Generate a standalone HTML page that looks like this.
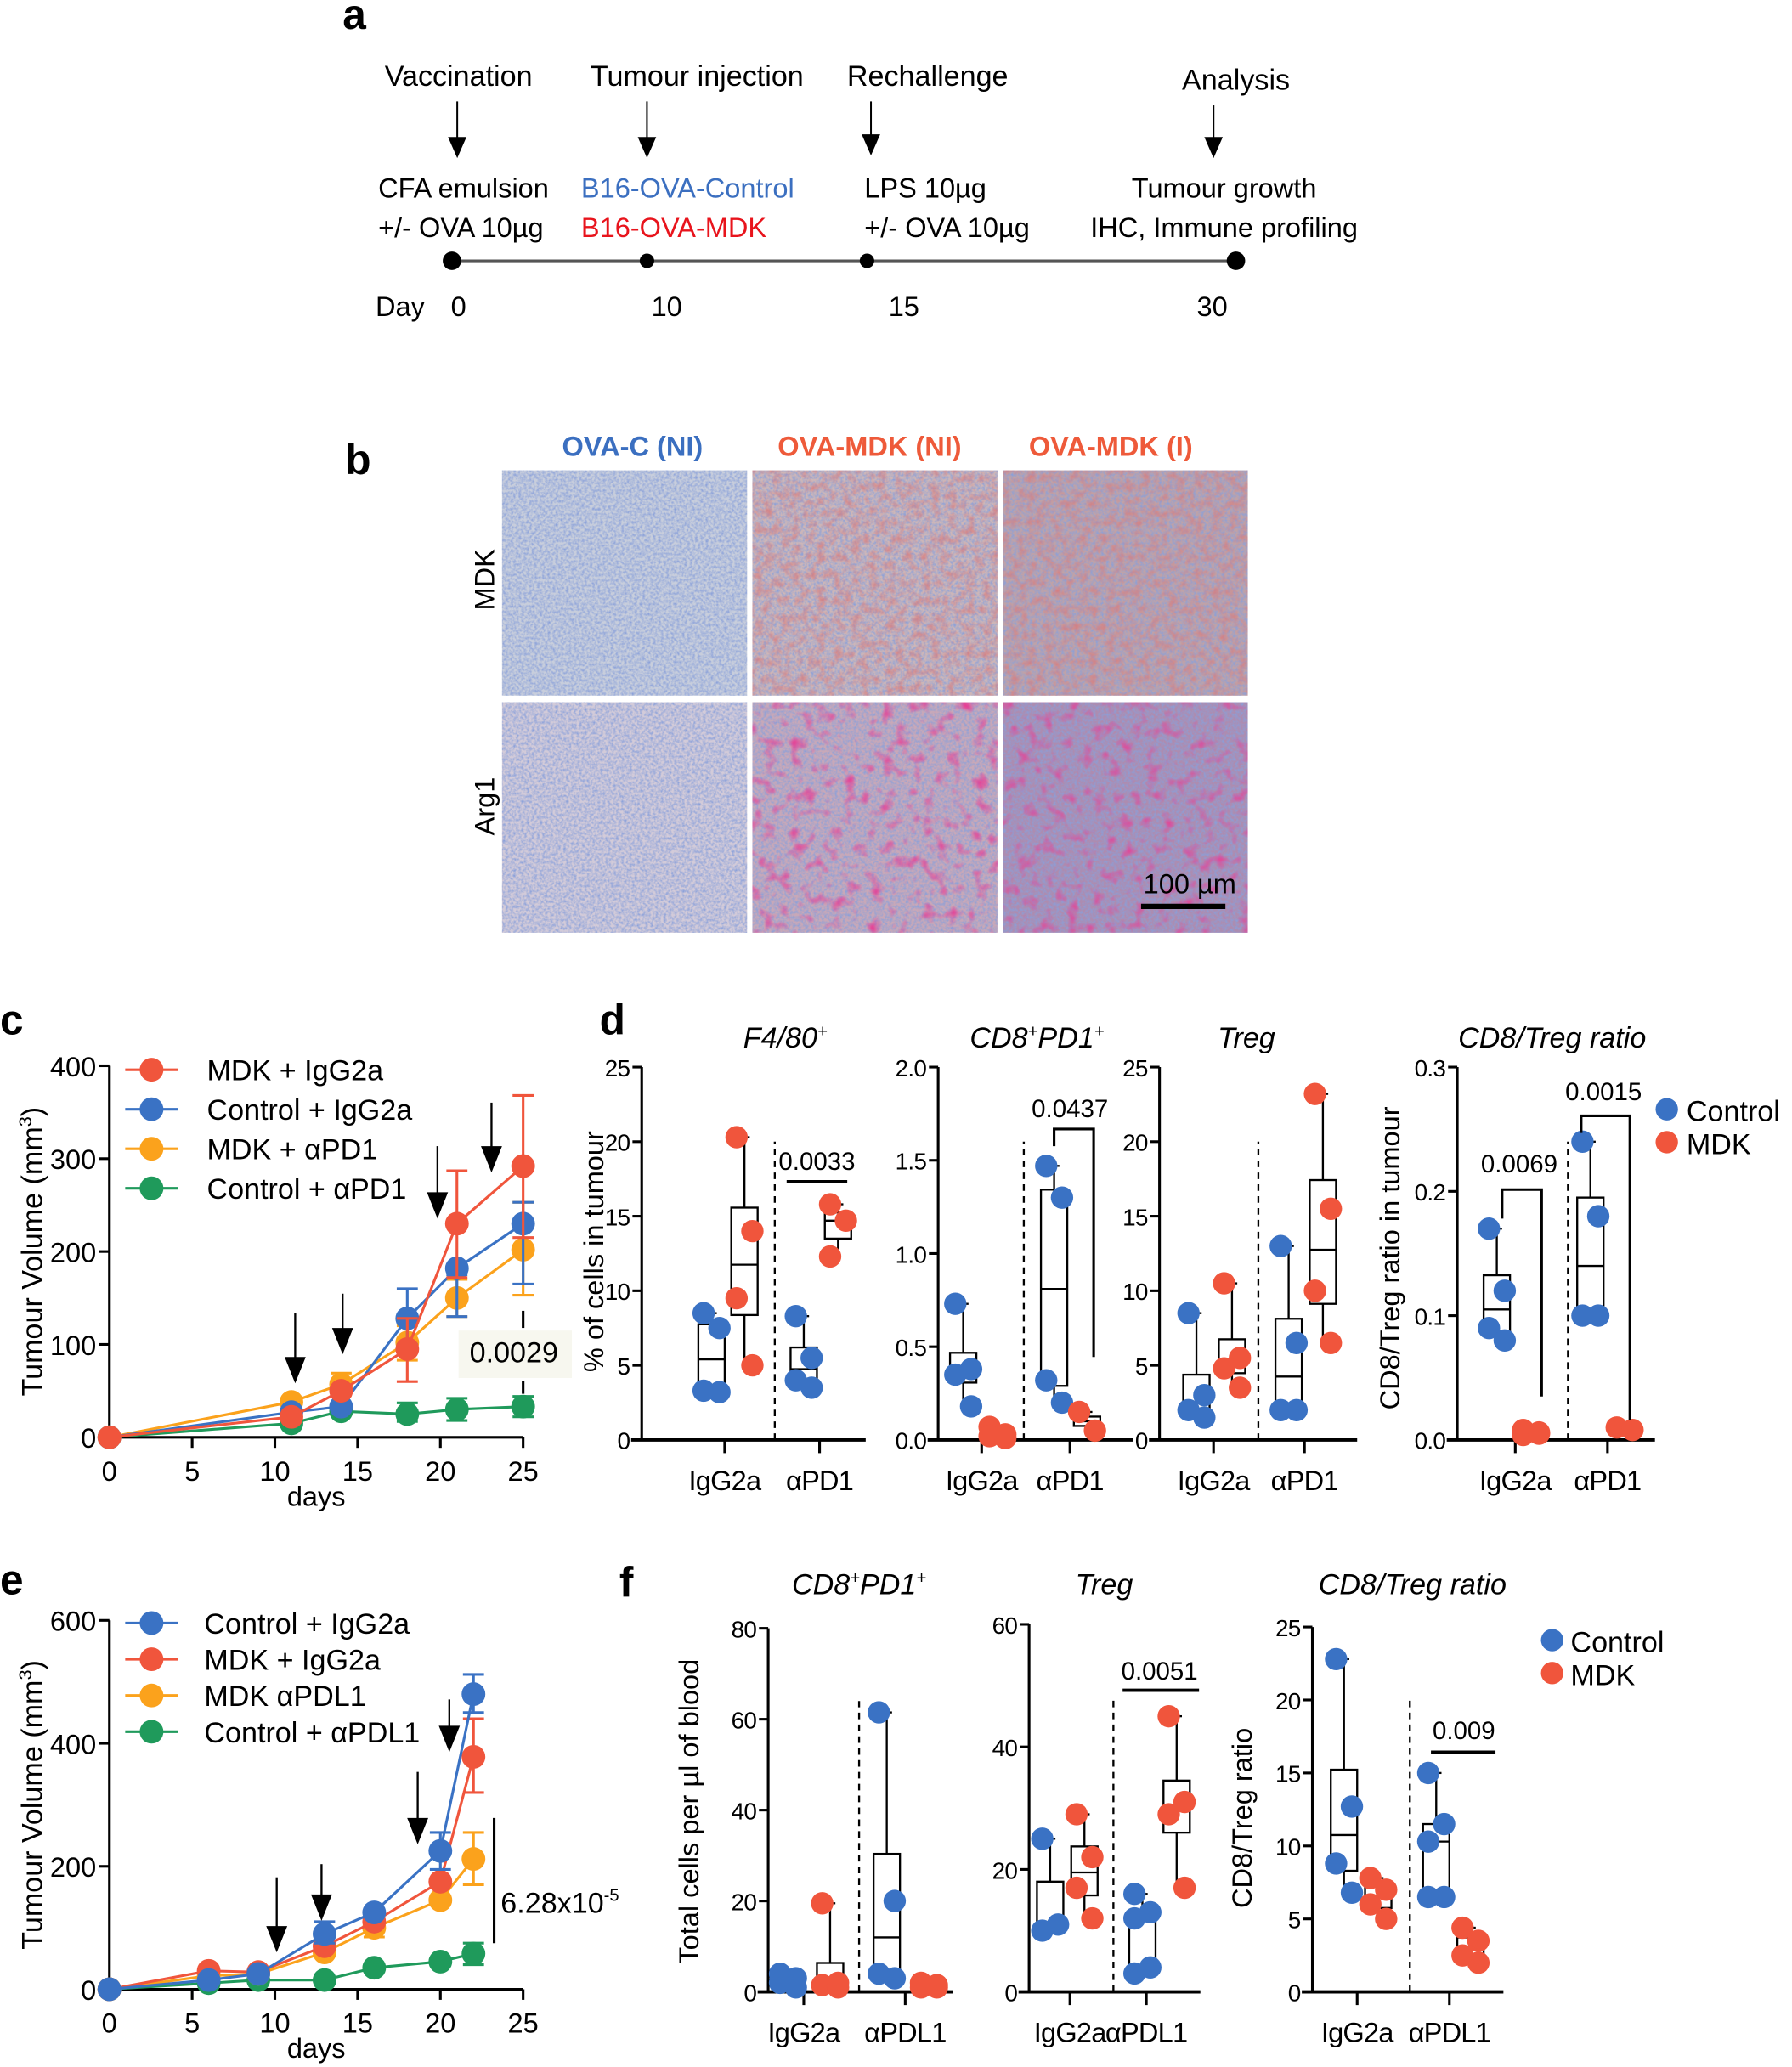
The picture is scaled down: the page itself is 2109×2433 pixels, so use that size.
<!DOCTYPE html>
<html><head><meta charset="utf-8"><style>
html,body{margin:0;padding:0;background:#fff}
svg{display:block}
text{font-family:"Liberation Sans",sans-serif}
</style></head><body>
<svg id="s" width="2109" height="2433" viewBox="0 0 1360 1569" xmlns="http://www.w3.org/2000/svg">
<defs>
<filter id="n1" x="0" y="0" width="100%" height="100%"><feTurbulence type="fractalNoise" baseFrequency="0.5" numOctaves="2" seed="3"/><feColorMatrix type="matrix" values="0 0 0 0 0.25  0 0 0 0 0.35  0 0 0 0 0.7  0 0 0 1.8 -0.6"/><feComposite in2="SourceGraphic" operator="in"/></filter>
<filter id="n2" x="0" y="0" width="100%" height="100%"><feTurbulence type="fractalNoise" baseFrequency="0.15" numOctaves="3" seed="7"/><feColorMatrix type="matrix" values="0 0 0 0 0.7  0 0 0 0 0.2  0 0 0 0 0.2  0 0 0 1.6 -0.65"/><feComposite in2="SourceGraphic" operator="in"/></filter>
<filter id="n3" x="0" y="0" width="100%" height="100%"><feTurbulence type="fractalNoise" baseFrequency="0.1" numOctaves="2" seed="11"/><feColorMatrix type="matrix" values="0 0 0 0 0.8  0 0 0 0 0.05  0 0 0 0 0.3  0 0 0 2.5 -1.3"/><feComposite in2="SourceGraphic" operator="in"/></filter>
</defs>
<g id="g"></g>
</svg>
<script>
var o='';
function T(x,y,t,sz,opt){opt=opt||{};o+='<text x="'+x+'" y="'+y+'" font-size="'+sz+'"'+(opt.a?' text-anchor="'+opt.a+'"':'')+(opt.c?' fill="'+opt.c+'"':'')+(opt.b?' font-weight="bold"':'')+(opt.i?' font-style="italic"':'')+(opt.ls?' letter-spacing="'+opt.ls+'"':'')+(opt.r?' transform="rotate(-90 '+x+' '+y+')"':'')+'>'+t+'</text>';}
function L(x1,y1,x2,y2,w,c,d){o+='<line x1="'+x1+'" y1="'+y1+'" x2="'+x2+'" y2="'+y2+'" stroke="'+(c||'#000')+'" stroke-width="'+(w||1.5)+'"'+(d?' stroke-dasharray="'+d+'"':'')+'/>';}
function C(x,y,r,c){o+='<circle cx="'+x+'" cy="'+y+'" r="'+r+'" fill="'+c+'"/>';}
function R(x,y,w,h,f,s){o+='<rect x="'+x+'" y="'+y+'" width="'+w+'" height="'+h+'" fill="'+(f||'none')+'"'+(s?' stroke="'+s+'" stroke-width="1.5"':'')+'/>';}
function AR(x,y1,y2){L(x,y1,x,y2-16,1.5);o+='<polygon points="'+(x-8)+','+(y2-20)+' '+(x+8)+','+(y2-20)+' '+x+','+y2+'" fill="#000"/>';}
var B='#3a72c4',Rd='#f0553c',Or='#fba21c',G='#1f9a5b';
// panel a
T(260,22,'a',32,{b:1});
T(348,65,'Vaccination',22,{a:'middle'});T(529,65,'Tumour injection',22,{a:'middle'});T(704,65,'Rechallenge',22,{a:'middle'});T(938,68,'Analysis',22,{a:'middle'});
[[347,77,120],[491,77,120],[661,77,118],[921,80,120]].forEach(function(a){L(a[0],a[1],a[0],a[2]-14,1.3);o+='<polygon points="'+(a[0]-7)+','+(a[2]-16)+' '+(a[0]+7)+','+(a[2]-16)+' '+a[0]+','+a[2]+'" fill="#000"/>';});
T(287,150,'CFA emulsion',21);T(287,180,'+/- OVA 10µg',21);
T(441,150,'B16-OVA-Control',21,{c:'#3b6fc0'});T(441,180,'B16-OVA-MDK',21,{c:'#e8141c'});
T(656,150,'LPS 10µg',21);T(656,180,'+/- OVA 10µg',21);
T(929,150,'Tumour growth',21,{a:'middle'});T(929,180,'IHC, Immune profiling',21,{a:'middle'});
L(343,198,938,198,2,'#555');C(343,198,7,'#000');C(491,198,5.5,'#000');C(658,198,5.5,'#000');C(938,198,7,'#000');
T(285,240,'Day',21);T(348,240,'0',21,{a:'middle'});T(506,240,'10',21,{a:'middle'});T(686,240,'15',21,{a:'middle'});T(920,240,'30',21,{a:'middle'});
// panel b
T(262,360,'b',32,{b:1});
T(480,346,'OVA-C (NI)',21,{a:'middle',c:'#3b6fc0',b:1});T(660,346,'OVA-MDK (NI)',21,{a:'middle',c:'#ee5a3a',b:1});T(843,346,'OVA-MDK (I)',21,{a:'middle',c:'#ee5a3a',b:1});
T(375,440,'MDK',21,{a:'middle',r:1});T(375,612,'Arg1',21,{a:'middle',r:1});
var cols=[381,571,761],rows=[357,533],h=[171,175];
var base=[['#c8cedc','#cdb6b8','#bfa2a8'],['#d3cbd9','#c8a8b8','#ad8cb0']];
var ov=[['n1','n2','n2'],['n1','n3','n3']];
for(var r=0;r<2;r++)for(var c=0;c<3;c++){R(cols[c],rows[r],186,h[r],base[r][c]);o+='<rect x="'+cols[c]+'" y="'+rows[r]+'" width="186" height="'+h[r]+'" fill="#fff" filter="url(#n1)"/>';if(ov[r][c]!='n1')o+='<rect x="'+cols[c]+'" y="'+rows[r]+'" width="186" height="'+h[r]+'" fill="#fff" filter="url(#'+ov[r][c]+')"/>';}
T(903,678,'100 µm',21,{a:'middle'});L(866,688,930,688,4);
function lc(cfg){
 var px=function(d){return cfg.x0+d*cfg.kx},py=function(v){return cfg.y0-v*cfg.ky};
 L(cfg.x0,cfg.y0,cfg.x0,py(cfg.ymax),2);L(cfg.x0,cfg.y0,px(25),cfg.y0,2);
 cfg.yt.forEach(function(v){L(cfg.x0-8,py(v),cfg.x0,py(v),2);T(cfg.x0-10,py(v)+8,v,21,{a:'end'});});
 [0,5,10,15,20,25].forEach(function(d){L(px(d),cfg.y0,px(d),cfg.y0+8,2);T(px(d),cfg.y0+33,d,21,{a:'middle'});});
 cfg.s.forEach(function(s){var pts=s.v.map(function(v,i){return px(cfg.d[i])+','+py(v)}).join(' ');
  (s.e||[]).forEach(function(e){var x=px(cfg.d[e[0]]);L(x,py(e[1]),x,py(e[2]),2,s.c);L(x-8,py(e[1]),x+8,py(e[1]),2,s.c);L(x-8,py(e[2]),x+8,py(e[2]),2,s.c);});
  o+='<polyline points="'+pts+'" fill="none" stroke="'+s.c+'" stroke-width="2"/>';
  s.v.forEach(function(v,i){C(px(cfg.d[i]),py(v),9,s.c)});});
}
T(0,785,'c',32,{b:1});
var cs=[{c:G,v:[0,15,28,25,30,33],e:[[3,17,37],[4,18,42],[5,22,44]]},{c:Or,v:[0,38,57,102,150,202],e:[[2,45,69],[3,83,120],[4,130,170],[5,153,253]]},{c:B,v:[0,27,33,128,182,230],e:[[3,100,160],[4,130,175],[5,165,253]]},{c:Rd,v:[0,22,50,95,230,292],e:[[3,60,128],[4,172,287],[5,215,368]]}];
lc({x0:83,kx:12.56,y0:1091,ky:0.705,ymax:400,yt:[0,100,200,300,400],d:[0,11,14,18,21,25],s:cs});
[['MDK + IgG2a',Rd],['Control + IgG2a',B],['MDK + αPD1',Or],['Control + αPD1',G]].forEach(function(l,i){var y=812+i*30;L(95,y,135,y,2,l[1]);C(115,y,9,l[1]);T(157,y+8,l[0],22);});
AR(224,997,1050);AR(260,982,1028);AR(332,870,925);AR(373,837,890);
R(348,1010,86,36,'#f7f7ef');T(390,1034,'0.0029',22,{a:'middle'});L(397,995,397,1008,2);L(397,1048,397,1058,2);
T(240,1143,'days',21,{a:'middle'});
o+='<text x="32" y="950" font-size="22" text-anchor="middle" transform="rotate(-90 32 950)">Tumour Volume (mm<tspan font-size="14" dy="-8">3</tspan><tspan dy="8">)</tspan></text>';
T(0,1210,'e',32,{b:1});
var es=[{c:G,v:[0,10,15,15,35,45,58],e:[[6,40,75]]},{c:Or,v:[0,22,25,60,100,145,212],e:[[4,85,130],[6,170,255]]},{c:Rd,v:[0,30,28,70,110,175,378],e:[[6,320,440]]},{c:B,v:[0,15,25,90,125,225,480],e:[[3,75,110],[5,195,255],[6,450,512]]}];
lc({x0:83,kx:12.56,y0:1510,ky:0.4667,ymax:600,yt:[0,200,400,600],d:[0,6,9,13,16,20,22],s:es});
[['Control + IgG2a',B],['MDK + IgG2a',Rd],['MDK αPDL1',Or],['Control + αPDL1',G]].forEach(function(l,i){var y=1232+i*27.5;L(95,y,135,y,2,l[1]);C(115,y,9,l[1]);T(155,y+8,l[0],22);});
AR(210,1425,1482);AR(244,1415,1458);AR(317,1345,1400);AR(341,1290,1330);
L(375,1380,375,1475,2);o+='<text x="380" y="1452" font-size="22">6.28x10<tspan font-size="13" dy="-9">-5</tspan></text>';
T(240,1562,'days',21,{a:'middle'});
o+='<text x="32" y="1370" font-size="22" text-anchor="middle" transform="rotate(-90 32 1370)">Tumour Volume (mm<tspan font-size="14" dy="-8">3</tspan><tspan dy="8">)</tspan></text>';
function bp(p){
 var py=function(v){return p.y0-(v/p.max)*(p.y0-p.yt)};
 L(p.ax,p.y0,p.ax,p.yt,2);L(p.ax-8,p.y0,p.ax+p.w,p.y0,2.5);
 p.ticks.forEach(function(v,i){L(p.ax-7,py(v),p.ax,py(v),2);T(p.ax-9,py(v)+7,p.tl[i],18,{a:'end',ls:-0.5});});
 p.cats.forEach(function(c,i){L(c,p.y0,c,p.y0+10,2);T(c,p.y0+38,p.cn[i],21,{a:'middle',ls:-0.5});});
 L(p.dash,p.y0,p.dash,py(p.max*0.8),1.5,'#000','5 4');
 p.bx.forEach(function(b){var v=b.v.slice().sort(function(a,b){return a-b}),n=v.length;
  var q=function(f){var i=f*(n-1),lo=Math.floor(i),hi=Math.ceil(i);return v[lo]+(v[hi]-v[lo])*(i-lo)};
  var q1=q(0.25),q3=q(0.75),md=q(0.5);
  L(b.x,py(v[0]),b.x,py(v[n-1]),1.5);L(b.x-4,py(v[n-1]),b.x+4,py(v[n-1]),1.5);
  R(b.x-10,py(q3),20,py(q1)-py(q3),'#fff','#000');L(b.x-10,py(md),b.x+10,py(md),1.5);
  b.v.forEach(function(vv,i){C(b.x+(i%2?6:-6),py(vv),8.5,b.c)});});
 (p.ps||[]).forEach(function(s){T(s.x,s.y,s.t,19,{a:'middle'});o+=s.l;});
}
T(455,785,'d',32,{b:1});
var c5=[0,5,10,15,20,25];
T(596,795,'F4/80<tspan font-size="13" dy="-8">+</tspan>',22,{a:'middle',i:1});
bp({ax:487,y0:1093,yt:810,max:25,w:170,ticks:c5,tl:c5,cats:[550,622],cn:['IgG2a','αPD1'],dash:588,
 bx:[{x:540,c:B,v:[8.5,7.5,3.3,3.2]},{x:565,c:Rd,v:[20.3,14,9.5,5]},{x:610,c:B,v:[8.3,5.5,4,3.5]},{x:636,c:Rd,v:[15.8,14.7,12.3]}],
 ps:[{x:620,y:888,t:'0.0033',l:'<line x1="597" y1="897" x2="643" y2="897" stroke="#000" stroke-width="2.5"/>'}]});
T(787,795,'CD8<tspan font-size="13" dy="-8">+</tspan><tspan dy="8">PD1</tspan><tspan font-size="13" dy="-8">+</tspan>',22,{a:'middle',i:1});
bp({ax:712,y0:1093,yt:810,max:2,w:148,ticks:[0,0.5,1,1.5,2],tl:['0.0','0.5','1.0','1.5','2.0'],cats:[745,812],cn:['IgG2a','αPD1'],dash:777,
 bx:[{x:731,c:B,v:[0.73,0.38,0.35,0.18]},{x:757,c:Rd,v:[0.07,0.03,0.02,0.01]},{x:800,c:B,v:[1.47,1.3,0.32,0.2]},{x:825,c:Rd,v:[0.15,0.05]}],
 ps:[{x:812,y:848,t:'0.0437',l:'<polyline points="800,870 800,857 830,857 830,1030" fill="none" stroke="#000" stroke-width="2"/>'}]});
T(946,795,'Treg',22,{a:'middle',i:1});
bp({ax:880,y0:1093,yt:810,max:25,w:150,ticks:c5,tl:c5,cats:[921,990],cn:['IgG2a','αPD1'],dash:955,
 bx:[{x:908,c:B,v:[8.5,3,2,1.5]},{x:935,c:Rd,v:[10.5,5.5,4.8,3.5]},{x:978,c:B,v:[13,6.5,2,2]},{x:1004,c:Rd,v:[23.2,15.5,10,6.5]}]});
T(1178,795,'CD8/Treg ratio',22,{a:'middle',i:1});
bp({ax:1106,y0:1093,yt:810,max:0.3,w:150,ticks:[0,0.1,0.2,0.3],tl:['0.0','0.1','0.2','0.3'],cats:[1150,1220],cn:['IgG2a','αPD1'],dash:1190,
 bx:[{x:1136,c:B,v:[0.17,0.12,0.09,0.08]},{x:1162,c:Rd,v:[0.008,0.005,0.004,0.006]},{x:1207,c:B,v:[0.24,0.18,0.1,0.1]},{x:1233,c:Rd,v:[0.01,0.008]}],
 ps:[{x:1153,y:890,t:'0.0069',l:'<polyline points="1140,925 1140,903 1170,903 1170,1060" fill="none" stroke="#000" stroke-width="2"/>'},{x:1217,y:835,t:'0.0015',l:'<polyline points="1200,860 1200,847 1237,847 1237,1078" fill="none" stroke="#000" stroke-width="2"/>'}]});
o+='<text x="458" y="950" font-size="21" text-anchor="middle" transform="rotate(-90 458 950)">% of cells in tumour</text>';
o+='<text x="1062" y="955" font-size="21" text-anchor="middle" transform="rotate(-90 1062 955)">CD8/Treg ratio in tumour</text>';
C(1265,842,8.5,B);T(1280,851,'Control',22);C(1265,867,8.5,Rd);T(1280,876,'MDK',22);
T(470,1212,'f',32,{b:1});
T(652,1210,'CD8<tspan font-size="13" dy="-8">+</tspan><tspan dy="8">PD1</tspan><tspan font-size="13" dy="-8">+</tspan>',22,{a:'middle',i:1});
bp({ax:583,y0:1512,yt:1236,max:80,w:140,ticks:[0,20,40,60,80],tl:[0,20,40,60,80],cats:[610,687],cn:['IgG2a','αPDL1'],dash:652,
 bx:[{x:598,c:B,v:[4,3,2,1]},{x:630,c:Rd,v:[19.5,2,1.5,1]},{x:673,c:B,v:[61.5,20,4,3]},{x:705,c:Rd,v:[2,1.5,1,1]}]});
T(838,1210,'Treg',22,{a:'middle',i:1});
bp({ax:781,y0:1512,yt:1233,max:60,w:130,ticks:[0,20,40,60],tl:[0,20,40,60],cats:[812,870],cn:['IgG2a','αPDL1'],dash:845,
 bx:[{x:797,c:B,v:[25,11,10]},{x:823,c:Rd,v:[29,22,17,12]},{x:867,c:B,v:[16,13,12,4,3]},{x:893,c:Rd,v:[45,31,29,17]}],
 ps:[{x:880,y:1275,t:'0.0051',l:'<line x1="852" y1="1283" x2="910" y2="1283" stroke="#000" stroke-width="2.5"/>'}]});
T(1072,1210,'CD8/Treg ratio',22,{a:'middle',i:1});
bp({ax:996,y0:1512,yt:1235,max:25,w:145,ticks:c5,tl:c5,cats:[1030,1100],cn:['IgG2a','αPDL1'],dash:1070,
 bx:[{x:1020,c:B,v:[22.8,12.7,8.8,6.8]},{x:1046,c:Rd,v:[7.8,7,6,5]},{x:1090,c:B,v:[15,11.5,10.3,6.5,6.5]},{x:1116,c:Rd,v:[4.4,3.5,2.5,2]}],
 ps:[{x:1111,y:1320,t:'0.009',l:'<line x1="1086" y1="1330" x2="1135" y2="1330" stroke="#000" stroke-width="2.5"/>'}]});
o+='<text x="530" y="1375" font-size="21" text-anchor="middle" transform="rotate(-90 530 1375)">Total cells per µl of blood</text>';
o+='<text x="950" y="1380" font-size="21" text-anchor="middle" transform="rotate(-90 950 1380)">CD8/Treg ratio</text>';
C(1178,1245,8.5,B);T(1192,1254,'Control',22);C(1178,1270,8.5,Rd);T(1192,1279,'MDK',22);
document.getElementById('g').innerHTML=o;
</script>
</body></html>
